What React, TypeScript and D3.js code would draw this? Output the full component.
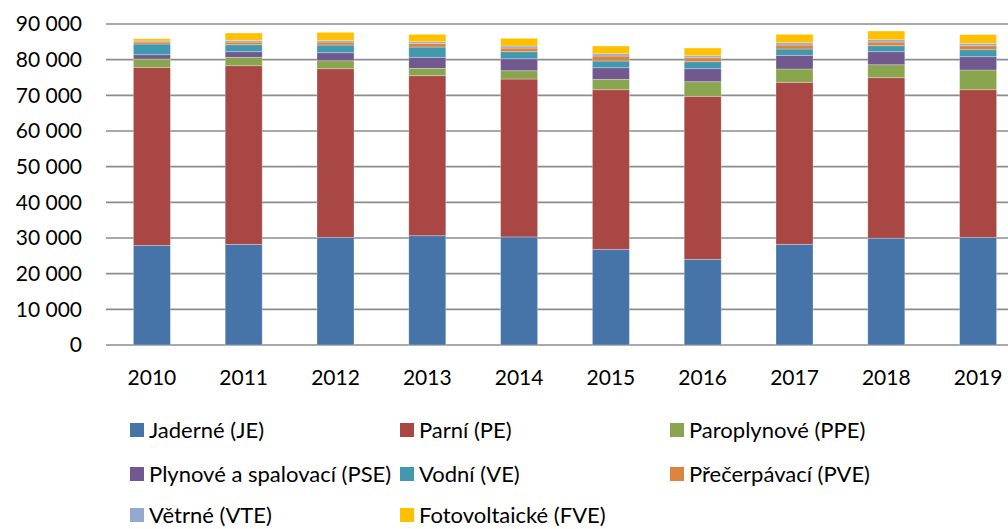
import React from "react";
import * as d3 from "d3";

const years = ["2010", "2011", "2012", "2013", "2014", "2015", "2016", "2017", "2018", "2019"];
const JE = [27900, 28230, 30190, 30640, 30300, 26830, 24020, 28230, 29950, 30190];
const PE = [49950, 50070, 47270, 44860, 44270, 44740, 45700, 45420, 44990, 41380];
const PPE = [2330, 2360, 2240, 2070, 2330, 2920, 4100, 3730, 3640, 5530];
const PSE = [1210, 1570, 2240, 3090, 3360, 3250, 3640, 3840, 3650, 3730];
const VE = [3000, 1960, 2160, 2880, 1970, 1880, 1960, 1770, 1680, 1960];
const PVE = [560, 750, 840, 1040, 1030, 1400, 1120, 1110, 1030, 1120];
const VTE = [280, 480, 480, 450, 570, 640, 560, 650, 650, 670];
const FVE = [640, 2050, 2240, 2070, 2150, 2160, 2160, 2350, 2440, 2420];

const seriesNames = [
  "Jaderné (JE)",
  "Parní (PE)",
  "Paroplynové (PPE)",
  "Plynové a spalovací (PSE)",
  "Vodní (VE)",
  "Přečerpávací (PVE)",
  "Větrné (VTE)",
  "Fotovoltaické (FVE)",
];
const seriesValues = [JE, PE, PPE, PSE, VE, PVE, VTE, FVE];
const colors = ["#4674A8", "#A84744", "#89A54E", "#71588F", "#4198AF", "#DB843D", "#93A9CF", "#FFC000"];
const yTicks = [0, 10000, 20000, 30000, 40000, 50000, 60000, 70000, 80000, 90000];

const FONT = "Lato, 'Open Sans', sans-serif";

export default function App() {
  const W = 1008;
  const H = 529;
  const left = 106;
  const step = 91.8;
  const x = d3
    .scaleBand<string>()
    .domain(years)
    .range([left, left + step * years.length])
    .paddingInner(0.597)
    .paddingOuter(0.2985);
  const y = d3.scaleLinear().domain([0, 90000]).range([345, 24]);

  const rows = years.map((yr, i) => {
    const o: Record<string, number | string> = { year: yr };
    seriesNames.forEach((s, j) => (o[s] = seriesValues[j][i]));
    return o;
  });
  const stacked = d3.stack<any>().keys(seriesNames)(rows);
  const fmt = (v: number) => d3.format(",")(v).replace(/,/g, " ");

  const legendCols = [130, 400, 670];
  const legendRows = [430, 474, 515];

  return (
    <svg width={W} height={H} style={{ position: "absolute", left: 0, top: 0, background: "#fff" }} fontFamily={FONT}>
      <rect width={W} height={H} fill="#fff" />
      {yTicks.map((t) => (
        <g key={t}>
          <line x1={left} x2={left + step * 10} y1={y(t)} y2={y(t)} stroke="#8c8c8c" strokeWidth={1.6} />
          <text x={82} y={y(t)} dy="0.35em" textAnchor="end" fontSize={21} fill="#000">
            {fmt(t)}
          </text>
        </g>
      ))}
      {stacked.map((layer, j) => (
        <g key={layer.key} fill={colors[j]}>
          {layer.map((d, i) => (
            <rect
              key={i}
              x={x(years[i])}
              width={x.bandwidth()}
              y={y(d[1])}
              height={y(d[0]) - y(d[1])}
              stroke="#ffffff"
              strokeOpacity={0.35}
              strokeWidth={0.8}
            />
          ))}
        </g>
      ))}
      {years.map((yr) => (
        <text key={yr} x={(x(yr) as number) + x.bandwidth() / 2} y={378} dy="0.35em" textAnchor="middle" fontSize={21} fill="#000">
          {yr}
        </text>
      ))}
      {seriesNames.map((s, j) => {
        const cx = legendCols[j % 3];
        const cy = legendRows[Math.floor(j / 3)];
        return (
          <g key={s}>
            <rect x={cx} y={cy - 7} width={14} height={14} fill={colors[j]} />
            <text x={cx + 19} y={cy} dy="0.35em" fontSize={22} fill="#000">
              {s}
            </text>
          </g>
        );
      })}
    </svg>
  );
}
